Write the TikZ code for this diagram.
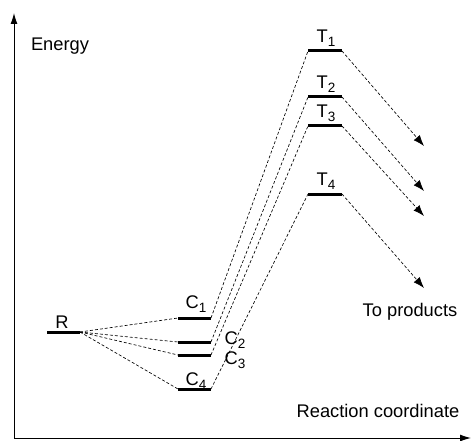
\documentclass[tikz,border=0pt]{standalone}
\usepackage{fontspec}
\setmainfont{Liberation Sans}
\usetikzlibrary{arrows.meta}
\newcommand\lsub[1]{\raisebox{-0.4ex}{\fontsize{13.5}{13.5}\selectfont #1}}
\begin{document}
\begin{tikzpicture}[x=1pt,y=-1pt,
  lbl/.style={inner sep=0pt,font=\fontsize{18.3}{20}\selectfont},
  level/.style={line width=3pt},
  axis/.style={line width=1pt,-{Latex[length=11pt,width=7pt]}},
  path/.style={line width=0.65pt,dash pattern=on 3pt off 2pt},
  prod/.style={path,-{Latex[length=11pt,width=8pt]}}]
\useasboundingbox (0,0) rectangle (471,441);
% axes
\coordinate (O) at (14,438);
\coordinate (Ytop) at (14,13);
\coordinate (Xend) at (471,438);
\draw[axis] (O) -- (Ytop);
\draw[axis] (O) -- (Xend);
\node[lbl] (energy) at (60,46) {Energy};
\node[lbl] (rc) at (378,411) {Reaction coordinate};
\node[lbl] (tp) at (410,312) {To products};
% levels
\coordinate (Rl) at (47,332);  \coordinate (Rr) at (80,332);
\coordinate (C1l) at (178,318); \coordinate (C1r) at (211,318);
\coordinate (C2l) at (178,342); \coordinate (C2r) at (211,342);
\coordinate (C3l) at (178,355); \coordinate (C3r) at (211,355);
\coordinate (C4l) at (178,389); \coordinate (C4r) at (211,389);
\coordinate (T1l) at (308,51);  \coordinate (T1r) at (342,51);
\coordinate (T2l) at (308,97);  \coordinate (T2r) at (342,97);
\coordinate (T3l) at (308,126); \coordinate (T3r) at (342,126);
\coordinate (T4l) at (308,194); \coordinate (T4r) at (342,194);
\coordinate (P1) at (424,146);
\coordinate (P2) at (424,191);
\coordinate (P3) at (424,216);
\coordinate (P4) at (424,288);
\foreach \a in {R,C1,C2,C3,C4,T1,T2,T3,T4}{\draw[level] (\a l) -- (\a r);}
% labels
\node[lbl] (Rlab) at (62,322) {R};
\node[lbl] (C1lab) at (196,304) {C\lsub{1}};
\node[lbl] (C2lab) at (235,340) {C\lsub{2}};
\node[lbl] (C3lab) at (235,360) {C\lsub{3}};
\node[lbl] (C4lab) at (196,381) {C\lsub{4}};
\node[lbl] (T1lab) at (326,38) {T\lsub{1}};
\node[lbl] (T2lab) at (326,84) {T\lsub{2}};
\node[lbl] (T3lab) at (326,113) {T\lsub{3}};
\node[lbl] (T4lab) at (326,181) {T\lsub{4}};
% connectors
\foreach \c in {C1,C2,C3,C4}{\draw[path] (Rr) -- (\c l);}
\draw[path] (C1r) -- (T1l);
\draw[path] (C2r) -- (T2l);
\draw[path] (C3r) -- (T3l);
\draw[path] (C4r) -- (T4l);
\draw[prod] (T1r) -- (P1);
\draw[prod] (T2r) -- (P2);
\draw[prod] (T3r) -- (P3);
\draw[prod] (T4r) -- (P4);
\end{tikzpicture}
\end{document}
